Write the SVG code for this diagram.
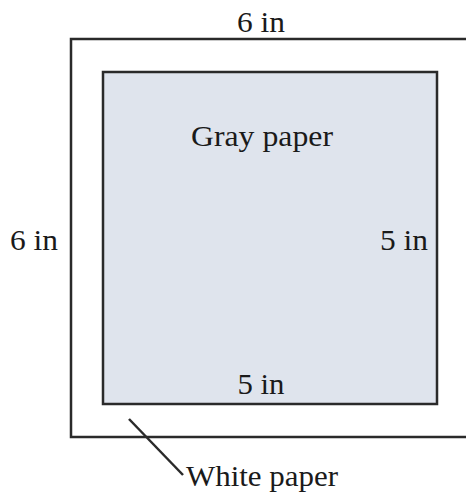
<svg xmlns="http://www.w3.org/2000/svg" width="466" height="494" viewBox="0 0 466 494">
<style>
text{font-family:"Liberation Serif","Times New Roman",serif;font-size:30px;fill:#1a1a1a}
.frame{fill:none;stroke:#2a2a2a;stroke-width:2.5}
</style>
<rect width="466" height="494" fill="#ffffff"/>
<g id="white-paper">
<rect class="frame" x="71" y="39" width="397" height="398" fill="#ffffff"/>
</g>
<g id="gray-paper">
<rect x="103" y="72" width="334" height="332" fill="#dfe4ed" stroke="#2a2a2a" stroke-width="2.5"/>
<text x="262" y="146" text-anchor="middle" textLength="142" lengthAdjust="spacingAndGlyphs">Gray paper</text>
</g>
<g id="labels">
<text x="261" y="32" text-anchor="middle" textLength="48" lengthAdjust="spacingAndGlyphs">6 in</text>
<text x="34" y="250" text-anchor="middle" textLength="48" lengthAdjust="spacingAndGlyphs">6 in</text>
<text x="404" y="250" text-anchor="middle" textLength="48" lengthAdjust="spacingAndGlyphs">5 in</text>
<text x="261" y="394" text-anchor="middle" textLength="47" lengthAdjust="spacingAndGlyphs">5 in</text>
<text x="186" y="486" textLength="152" lengthAdjust="spacingAndGlyphs">White paper</text>
</g>
<g id="connectors">
<line x1="129" y1="419" x2="183" y2="475" stroke="#2a2a2a" stroke-width="2.5"/>
</g>
</svg>
